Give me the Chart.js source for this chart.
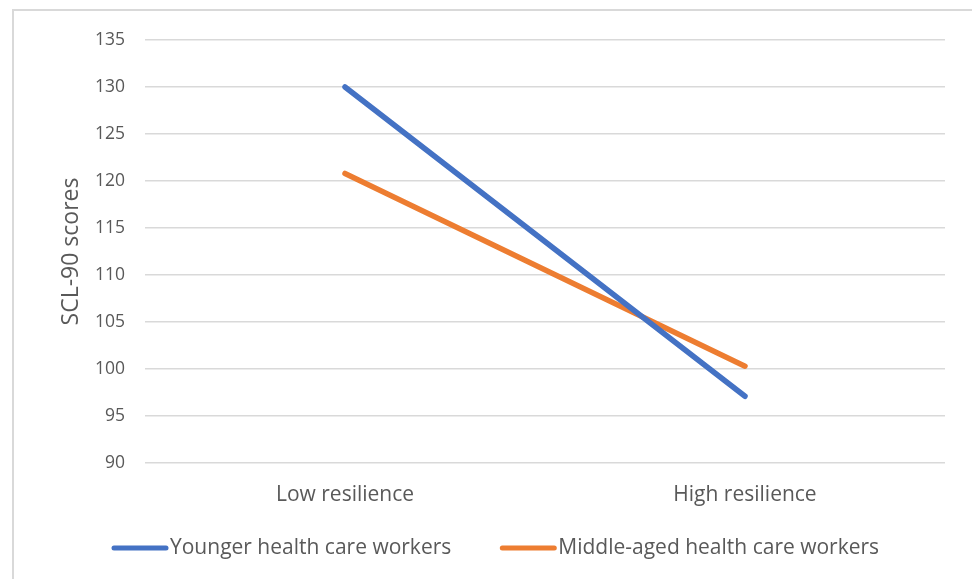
<!DOCTYPE html>
<html>
<head>
<meta charset="utf-8">
<script src="https://cdn.jsdelivr.net/npm/chart.js@4/dist/chart.umd.min.js"></script>
<style>
  html, body { margin: 0; padding: 0; background: #ffffff; }
  #wrap { position: relative; width: 972px; height: 579px; overflow: hidden; }
  #frame { position: absolute; left: 12px; top: 9px; width: 1000px; height: 1000px;
           border: 2px solid #d9d9d9; box-sizing: border-box; }
  canvas { position: absolute; left: 0; top: 0; }
</style>
</head>
<body>
<div id="wrap">
  <div id="frame"></div>
  <canvas id="chart" width="972" height="579"></canvas>
</div>
<script>
// Resilience level on the x axis
const categories = ['Low resilience', 'High resilience'];
// Mean SCL-90 scores by age group
const younger = [130.0, 97.1];
const middleAged = [120.8, 100.3];
const seriesNames = ['Younger health care workers', 'Middle-aged health care workers'];
const yTicks = [90, 95, 100, 105, 110, 115, 120, 125, 130, 135];

const FONT = '"Open Sans", sans-serif';
const GRAY = '#595959';

// Line-style legend drawn below the plot
const lineLegend = {
  id: 'lineLegend',
  afterDraw(chart) {
    const ctx = chart.ctx;
    const y = 548;
    let x = 112;
    ctx.save();
    ctx.font = '21px ' + FONT;
    ctx.textBaseline = 'middle';
    ctx.textAlign = 'left';
    chart.data.datasets.forEach((ds) => {
      ctx.strokeStyle = ds.borderColor;
      ctx.lineWidth = 5;
      ctx.lineCap = 'round';
      ctx.beginPath();
      ctx.moveTo(x + 2, y);
      ctx.lineTo(x + 54, y);
      ctx.stroke();
      x += 58;
      ctx.fillStyle = GRAY;
      ctx.fillText(ds.label, x, y);
      x += ctx.measureText(ds.label).width + 49;
    });
    ctx.restore();
  }
};

new Chart(document.getElementById('chart'), {
  type: 'line',
  data: {
    labels: categories,
    datasets: [
      { label: seriesNames[0], data: younger, borderColor: '#4472C4', backgroundColor: '#4472C4',
        borderWidth: 5.5, borderCapStyle: 'round', pointRadius: 0, tension: 0 },
      { label: seriesNames[1], data: middleAged, borderColor: '#ED7D31', backgroundColor: '#ED7D31',
        borderWidth: 5.5, borderCapStyle: 'round', pointRadius: 0, tension: 0 }
    ]
  },
  options: {
    responsive: false,
    animation: false,
    layout: { padding: { left: 0, right: 27, top: 40, bottom: 0 } },
    plugins: { legend: { display: false }, tooltip: { enabled: false } },
    scales: {
      x: {
        offset: true,
        grid: { display: false, drawTicks: false },
        border: { display: false },
        ticks: { color: GRAY, font: { family: FONT, size: 21 }, padding: 19 },
        afterFit(scale) { scale.height = 116; }
      },
      y: {
        min: 90, max: 135,
        afterBuildTicks(scale) { scale.ticks = yTicks.map(v => ({ value: v })); },
        grid: { color: '#d9d9d9', lineWidth: 1.5, drawTicks: false },
        border: { display: false },
        ticks: { color: GRAY, font: { family: FONT, size: 17.5 }, padding: 20 },
        title: { display: true, text: 'SCL-90 scores', color: GRAY,
                 font: { family: FONT, size: 23 }, padding: { top: 58, bottom: 0 } },
        afterFit(scale) { scale.width = 145; }
      }
    }
  },
  plugins: [lineLegend]
});
</script>
</body>
</html>
